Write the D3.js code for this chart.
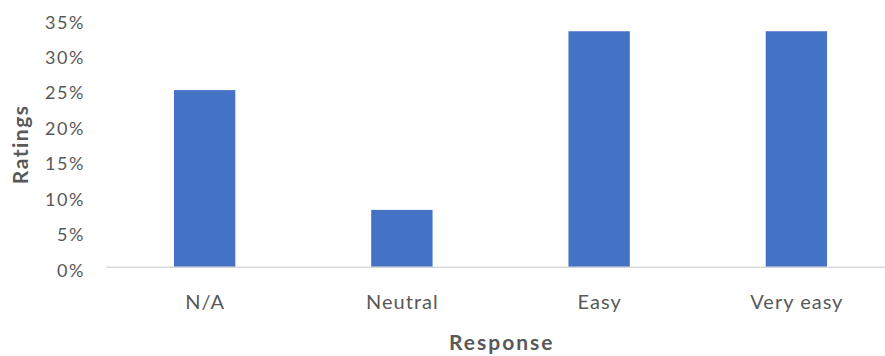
<!DOCTYPE html>
<html>
<head>
<meta charset="utf-8">
<script src="https://cdn.jsdelivr.net/npm/d3@7"></script>
<style>
  html, body { margin: 0; padding: 0; background: #fff; }
  svg { display: block; }
</style>
</head>
<body>
<svg id="chart" width="885" height="356"></svg>
<script>
const categories = ["N/A", "Neutral", "Easy", "Very easy"];
const ratings = [0.25, 0.081, 0.333, 0.333];
const yTicks = [0, 0.05, 0.10, 0.15, 0.20, 0.25, 0.30, 0.35];
const xTitle = "Response";
const yTitle = "Ratings";

const svg = d3.select("#chart");
const FONT = "Lato, 'Open Sans', sans-serif";
const TEXT = "#595959";

const x = d3.scaleBand().domain(categories).range([106, 895])
  .paddingInner(0.689).paddingOuter(0.3445);
const y = d3.scaleLinear().domain([0, 0.35]).range([267.3, 19.2]);

// bars
svg.append("g").selectAll("rect").data(categories).join("rect")
  .attr("x", d => x(d))
  .attr("width", x.bandwidth())
  .attr("y", (d, i) => y(ratings[i]))
  .attr("height", (d, i) => y(0) - y(ratings[i]))
  .attr("fill", "#4472C4");

// baseline
svg.append("line")
  .attr("x1", x.range()[0]).attr("x2", x.range()[1])
  .attr("y1", y(0)).attr("y2", y(0))
  .attr("stroke", "#D9D9D9").attr("stroke-width", 1.5);

// y axis
const yAxis = svg.append("g").attr("transform", "translate(106,0)")
  .call(d3.axisLeft(y).tickValues(yTicks).tickSize(0).tickPadding(0)
    .tickFormat(d3.format(".0%")));
yAxis.select(".domain").remove();
yAxis.selectAll("text")
  .attr("x", -21).attr("dy", "8.9px")
  .attr("font-family", FONT).attr("font-size", "18px")
  .attr("letter-spacing", "1.6px")
  .attr("fill", TEXT);

// x axis
const xAxis = svg.append("g").attr("transform", `translate(0,${y(0)})`)
  .call(d3.axisBottom(x).tickSize(0).tickPadding(0));
xAxis.select(".domain").remove();
xAxis.selectAll("text")
  .attr("y", 0).attr("dy", "42px").attr("dx", "0.5px")
  .attr("font-family", FONT).attr("font-size", "20px")
  .attr("letter-spacing", "1px")
  .attr("fill", TEXT);

// titles
svg.append("text")
  .attr("x", 501.8).attr("y", 350)
  .attr("text-anchor", "middle")
  .attr("font-family", FONT).attr("font-size", "21px").attr("font-weight", "bold")
  .attr("letter-spacing", "2px")
  .attr("fill", TEXT)
  .text(xTitle);

svg.append("text")
  .attr("transform", "translate(28,144.3) rotate(-90)")
  .attr("text-anchor", "middle")
  .attr("font-family", FONT).attr("font-size", "21px").attr("font-weight", "bold")
  .attr("letter-spacing", "1.5px")
  .attr("fill", TEXT)
  .text(yTitle);
</script>
</body>
</html>
